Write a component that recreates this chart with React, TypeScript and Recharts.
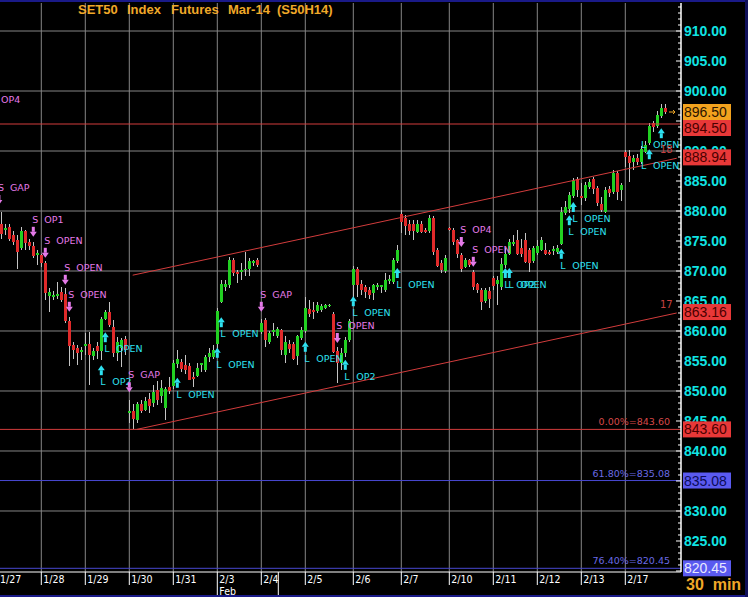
import React from 'react';
import { ComposedChart, Bar, XAxis, YAxis, CartesianGrid, ReferenceLine, Scatter } from 'recharts';

// ---- bar data (30 min bars, index = bar number) ----
const opens = [
  877.9, 876.8, 877.4, 876.0, 875.2, 873.8, 876.6, 874.9, 874.2, 872.7,
  872.6, 871.3, 865.9, 865.7, 865.9, 866.5, 866.1, 861.6, 857.7, 857.2,
  856.6, 857.4, 857.8, 855.8, 857.5, 856.6, 862.0, 863.2, 860.6, 856.3,
  857.1, 858.7, 846.3, 846.6, 845.2, 847.9, 846.9, 848.6, 848.0, 850.2,
  849.1, 847.1, 850.6, 850.8, 854.5, 854.9, 854.3, 854.2, 852.4, 852.5,
  854.2, 853.5, 855.6, 855.7, 857.8, 864.9, 867.4, 867.7, 871.8, 869.9,
  869.9, 870.1, 870.2, 871.4, 871.9, 859.9, 861.8, 858.2, 859.7, 859.1,
  860.2, 856.0, 857.8, 857.9, 855.7, 858.8, 859.9, 863.6, 863.5, 863.3,
  863.5, 863.8, 864.1, 862.9, 856.6, 854.6, 856.3, 858.5, 867.7, 870.4,
  867.9, 867.3, 866.8, 866.3, 867.3, 867.4, 866.8, 868.2, 868.2, 871.6,
  879.5, 878.8, 877.9, 877.9, 876.6, 877.9, 876.9, 876.6, 878.8, 873.5,
  871.3, 869.9, 877.1, 876.9, 875.1, 872.7, 870.7, 871.8, 869.9, 867.8,
  866.9, 864.9, 866.6, 868.8, 867.9, 867.4, 871.0, 872.9, 874.5, 875.2,
  873.9, 875.2, 873.5, 871.6, 872.9, 873.6, 873.5, 873.2, 873.2, 873.2,
  874.6, 879.7, 880.4, 882.5, 885.3, 882.5, 882.1, 884.1, 885.3, 883.8,
  881.2, 879.9, 883.6, 883.2, 886.4, 883.5, 889.9, 889.2, 888.2, 888.8,
  888.2, 889.9, 891.3, 894.6, 894.1, 895.7, 897.1,
];
const highs = [
  879.9, 877.8, 877.8, 876.6, 876.0, 877.4, 876.8, 875.4, 874.9, 873.5,
  872.9, 871.7, 867.1, 866.6, 868.2, 867.4, 867.1, 862.4, 858.2, 857.7,
  857.4, 859.6, 859.9, 857.1, 858.2, 862.4, 863.5, 864.9, 861.8, 859.0,
  858.8, 859.1, 848.5, 847.9, 848.2, 848.5, 849.0, 849.6, 851.0, 851.6,
  851.8, 850.7, 852.4, 855.2, 856.8, 855.4, 856.0, 854.6, 853.2, 854.6,
  854.6, 856.0, 857.1, 857.6, 863.8, 868.5, 868.5, 872.3, 872.1, 870.2,
  871.3, 873.2, 872.1, 871.9, 872.1, 862.0, 862.1, 860.0, 861.3, 860.6,
  860.4, 859.1, 858.5, 858.2, 859.3, 860.6, 865.7, 865.2, 864.8, 864.8,
  864.5, 864.5, 864.5, 863.2, 857.4, 857.1, 859.0, 862.0, 870.9, 870.7,
  868.5, 867.7, 867.4, 867.9, 868.0, 867.7, 869.6, 869.3, 872.1, 874.3,
  880.2, 879.3, 878.5, 878.5, 878.5, 878.3, 877.2, 879.3, 879.1, 873.8,
  871.8, 872.6, 877.4, 877.1, 875.4, 873.0, 872.2, 872.0, 870.2, 868.0,
  867.2, 867.2, 867.4, 869.1, 869.2, 872.1, 873.8, 875.4, 876.0, 876.8,
  875.4, 876.3, 873.8, 874.1, 875.1, 875.6, 874.6, 873.5, 874.2, 874.3,
  880.7, 881.6, 883.2, 885.5, 885.7, 884.6, 884.8, 885.4, 885.7, 884.2,
  882.4, 884.0, 884.1, 886.8, 886.6, 884.6, 890.2, 890.2, 889.3, 889.5,
  890.8, 891.6, 894.6, 895.0, 896.6, 897.8, 897.8,
];
const lows = [
  875.4, 876.0, 875.0, 874.3, 870.4, 873.5, 873.5, 873.5, 872.2, 871.0,
  870.7, 865.2, 863.2, 865.2, 865.4, 864.9, 861.3, 854.1, 855.4, 854.3,
  855.2, 856.0, 851.0, 855.2, 855.4, 855.2, 861.9, 860.7, 855.7, 855.0,
  854.0, 856.0, 844.6, 843.6, 844.7, 846.4, 846.6, 846.4, 847.3, 847.7,
  848.0, 845.2, 849.5, 850.4, 853.8, 853.1, 852.9, 851.8, 850.7, 852.4,
  853.1, 853.2, 854.9, 855.4, 856.8, 864.6, 866.6, 867.2, 869.2, 868.0,
  868.5, 869.1, 869.1, 870.8, 870.7, 859.5, 857.4, 857.8, 859.1, 858.8,
  856.0, 854.6, 856.4, 855.2, 854.3, 858.5, 859.6, 862.4, 862.0, 863.0,
  863.2, 863.6, 864.0, 856.3, 851.3, 853.5, 855.7, 858.2, 865.7, 865.7,
  866.0, 865.5, 865.4, 865.2, 866.8, 866.3, 866.5, 867.9, 867.9, 871.3,
  876.3, 876.0, 876.0, 875.2, 876.3, 876.3, 876.3, 876.3, 872.7, 870.7,
  869.6, 869.6, 876.6, 874.3, 872.2, 869.9, 870.5, 870.7, 866.9, 866.3,
  863.5, 864.6, 863.8, 866.8, 864.3, 866.8, 870.5, 872.6, 874.1, 872.7,
  872.4, 871.3, 869.9, 871.3, 872.6, 873.3, 872.7, 872.7, 872.7, 872.9,
  874.3, 879.4, 879.6, 882.2, 882.4, 881.0, 881.6, 883.6, 882.8, 880.9,
  879.9, 879.6, 882.4, 882.9, 881.8, 881.6, 887.4, 884.9, 886.8, 887.6,
  887.9, 889.6, 891.0, 893.2, 893.9, 895.5, 896.1,
];
const closes = [
  876.3, 877.2, 875.4, 874.8, 873.2, 876.7, 874.6, 874.2, 872.5, 873.0,
  871.3, 866.3, 866.5, 866.0, 866.2, 865.2, 861.6, 857.4, 856.8, 856.3,
  856.9, 857.8, 855.9, 856.6, 856.6, 862.0, 863.1, 861.0, 856.3, 858.2,
  858.5, 856.8, 846.7, 845.2, 847.9, 846.8, 848.4, 847.5, 849.9, 848.5,
  850.5, 850.3, 849.9, 854.6, 855.3, 853.8, 853.4, 851.9, 852.1, 853.8,
  854.6, 855.7, 856.3, 856.8, 863.3, 867.9, 867.9, 871.8, 869.6, 869.6,
  870.2, 870.3, 871.6, 871.7, 871.0, 861.4, 858.5, 859.7, 860.1, 860.3,
  856.8, 858.2, 856.9, 855.4, 859.1, 860.2, 863.8, 862.7, 863.1, 864.3,
  864.2, 864.3, 864.3, 856.6, 854.6, 856.3, 858.5, 861.6, 870.4, 867.7,
  866.9, 866.5, 866.0, 867.7, 867.6, 867.7, 868.5, 868.6, 871.8, 873.5,
  878.2, 877.4, 876.8, 876.8, 877.9, 876.6, 876.6, 878.8, 873.2, 870.8,
  870.1, 872.1, 876.8, 874.9, 872.7, 870.4, 871.8, 871.0, 867.4, 866.8,
  864.9, 866.8, 865.2, 867.4, 868.5, 871.2, 872.9, 874.9, 874.9, 872.9,
  872.9, 871.6, 871.3, 873.8, 874.1, 875.2, 872.9, 872.9, 873.6, 873.8,
  879.9, 880.7, 882.7, 885.2, 883.5, 882.1, 884.3, 884.9, 883.6, 881.3,
  880.2, 883.5, 882.9, 886.3, 883.2, 884.3, 889.1, 888.1, 888.8, 888.1,
  890.4, 891.0, 894.2, 893.9, 896.0, 897.1, 896.5,
];

// ---- session (day) starts and labels ----
const dayStarts = [-0.8, 10, 21, 32, 43, 54, 65, 76, 88, 100, 112, 123, 134, 145, 156];
const dayLabels = ['1/27', '1/28', '1/29', '1/30', '1/31', '2/3', '2/4', '2/5', '2/6', '2/7', '2/10', '2/11', '2/12', '2/13', '2/17'];
const monthStart = 54;
const monthLabel = 'Feb';

// ---- price axis ----
const yTickValues = Array.from({ length: 95 }, (_, k) => 820 + k);
const gridPrices = [830, 840, 850, 860, 870, 880, 890, 900, 910];

// ---- signals ----
const sigIndex = [-2.8, -0.6, 8, 11, 16, 17, 26, 25, 32, 44, 54, 55, 65, 76, 84, 86, 88, 99, 115, 118, 126, 127, 140, 142, 143, 162, 165];
const sigPrice = [895.7, 881.0, 875.7, 872.2, 867.7, 863.2, 859.8, 854.3, 849.8, 852.2, 857.2, 862.3, 863.2, 858.2, 858.0, 855.2, 865.8, 870.5, 874.0, 870.7, 870.5, 870.5, 873.7, 879.3, 881.5, 890.3, 893.8];
const sigSide = ['S', 'S', 'S', 'S', 'S', 'S', 'L', 'L', 'S', 'L', 'L', 'L', 'S', 'L', 'S', 'L', 'L', 'L', 'S', 'S', 'L', 'L', 'L', 'L', 'L', 'L', 'L'];
const sigWord = ['OP4', 'GAP', 'OP1', 'OPEN', 'OPEN', 'OPEN', 'OPEN', 'OP2', 'GAP', 'OPEN', 'OPEN', 'OPEN', 'GAP', 'OPEN', 'OPEN', 'OP2', 'OPEN', 'OPEN', 'OP4', 'OPEN', 'OP2', 'OPEN', 'OPEN', 'OPEN', 'OPEN', 'OPEN', 'OPEN'];

// ---- levels ----
const resistance = 894.5;
const fibValues = [843.6, 835.08, 820.45];
const fibNames = ['0.00%', '61.80%', '76.40%'];
const lastPrice = 896.5;
const upperChannel = [{ x: 32.85, y: 869.3 }, { x: 168.85, y: 888.79 }];
const lowerChannel = [{ x: 33.85, y: 843.6 }, { x: 168.85, y: 863.0 }];
const upperChannelEnd = 888.94;
const lowerChannelEnd = 863.16;
const channelIds = ['18', '17'];

const boxValues = [lastPrice, resistance, upperChannelEnd, lowerChannelEnd, fibValues[0], fibValues[1], fibValues[2]];
const boxFill = ['#f2a21e', '#e83838', '#e83838', '#e83838', '#e83838', '#5a5af0', '#5a5af0'];
const boxInk = ['#2a1400', '#4a0000', '#4a0000', '#4a0000', '#4a0000', '#0c0c5a', '#e8e8ff'];

const RED = '#d23c3c';
const BLUE = '#4848d0';
const GREEN_C = '#22d022';
const RED_C = '#e02a2a';
const MAGENTA = '#e47ae8';
const CYAN = '#2ee0f0';
const AXIS_CYAN = '#10e4e4';
const ORANGE = '#f0a828';
const PLOT_RIGHT = 681;

const bars = opens.map((o, i) => ({ idx: i, open: o, high: highs[i], low: lows[i], close: closes[i] }));
const signals = sigIndex.map((i, k) => ({ idx: i, price: sigPrice[k], side: sigSide[k], word: sigWord[k] }));

function Candle(props: any) {
  const { x, y, width, height, payload } = props;
  if (x == null || y == null || !payload) return null;
  const top = Math.min(y, y + height);
  const bot = Math.max(y, y + height);
  const { open, close, high, low } = payload;
  const span = high - low || 1;
  const py = (v: number) => top + ((high - v) / span) * (bot - top);
  const left = Math.round(x + width / 2 - 1.5);
  const cx = left + 1.5;
  const up = close >= open;
  const yO = py(open);
  const yC = py(close);
  const bTop = Math.round(Math.min(yO, yC));
  const bH = Math.max(1, Math.round(Math.abs(yO - yC)));
  return (
    <g>
      <line x1={cx} x2={cx} y1={Math.round(top)} y2={Math.round(bot)} stroke="#c4c4c4" strokeWidth={1} />
      <rect x={left} y={bTop} width={3} height={bH} fill={up ? GREEN_C : RED_C} />
    </g>
  );
}

function Signal(props: any) {
  const { cx, cy, payload } = props;
  if (cx == null || cy == null) return null;
  const isS = payload.side === 'S';
  const col = isS ? MAGENTA : CYAN;
  let tx = cx - 1;
  if (tx > PLOT_RIGHT - 40) tx = PLOT_RIGHT - 40;
  const font = { fontFamily: 'DejaVu Sans, sans-serif', fontSize: 9.5, fill: col } as any;
  if (isS) {
    return (
      <g>
        <rect x={cx - 1.5} y={cy - 10} width={3} height={5} fill={col} />
        <polygon points={`${cx - 3.5},${cy - 5} ${cx + 3.5},${cy - 5} ${cx},${cy}`} fill={col} />
        <text x={tx} y={cy - 14} {...font}>S</text>
        <text x={tx + 12} y={cy - 14} {...font}>{payload.word}</text>
      </g>
    );
  }
  return (
    <g>
      <polygon points={`${cx - 3.5},${cy + 5} ${cx + 3.5},${cy + 5} ${cx},${cy}`} fill={col} />
      <rect x={cx - 1.5} y={cy + 5} width={3} height={5} fill={col} />
      <text x={tx} y={cy + 20} {...font}>L</text>
      <text x={tx + 12} y={cy + 20} {...font}>{payload.word}</text>
    </g>
  );
}

let lastBoxBottom = -1e9;

function YTick(props: any) {
  const { x, y, payload } = props;
  const v = payload.value;
  const bi = boxValues.indexOf(v);
  if (bi >= 0) {
    if (bi === 0) lastBoxBottom = -1e9;
    let top = y - 8;
    if (top < lastBoxBottom) top = lastBoxBottom;
    lastBoxBottom = top + 16;
    const fi = fibValues.indexOf(v);
    const ci = v === upperChannelEnd ? 0 : v === lowerChannelEnd ? 1 : -1;
    return (
      <g>
        <rect x={x + 2} y={top} width={48} height={16} fill={boxFill[bi]} />
        <text x={x + 3} y={top + 13} fill={boxInk[bi]} fontSize={14} fontFamily="Liberation Sans, Arial, sans-serif">{v.toFixed(2)}</text>
        {v === lastPrice ? (
          <path d={`M${x - 12},${y} L${x - 6},${y} M${x - 8},${y - 2} L${x - 6},${y} L${x - 8},${y + 2}`} stroke={ORANGE} strokeWidth={1} fill="none" />
        ) : null}
        {fi >= 0 ? (
          <text x={x - 11} y={y - 4} textAnchor="end" fill={fi === 0 ? '#d84848' : '#6a6ae6'} fontSize={9.5} fontFamily="DejaVu Sans, sans-serif">
            {`${fibNames[fi]}=${v.toFixed(2)}`}
          </text>
        ) : null}
        {ci >= 0 ? (
          <text x={x - 21} y={y - 4} fill="#c84040" fontSize={10} fontFamily="DejaVu Sans, sans-serif">{channelIds[ci]}</text>
        ) : null}
      </g>
    );
  }
  const major = Math.round(v) % 5 === 0;
  return (
    <g>
      <line x1={x - (major ? 5 : 3)} x2={x} y1={y} y2={y} stroke="#ffffff" strokeWidth={1} />
      {major && v >= 825 ? (
        <text x={x + 3} y={y + 5} fill={AXIS_CYAN} fontSize={14} fontWeight="bold" fontFamily="Liberation Sans, Arial, sans-serif">
          {v.toFixed(2)}
        </text>
      ) : null}
    </g>
  );
}

function XTick(props: any) {
  const { x, y, payload } = props;
  const k = dayStarts.indexOf(payload.value);
  const isMonth = payload.value === monthStart;
  const font = { fill: '#ffffff', fontSize: 10.5, fontFamily: 'DejaVu Sans Condensed, DejaVu Sans, sans-serif' } as any;
  return (
    <g>
      <line x1={x} x2={x} y1={y} y2={y + (isMonth ? 25 : 13)} stroke="#ffffff" strokeWidth={1} />
      <text x={x + 2} y={y + 11} {...font}>{dayLabels[k]}</text>
      {isMonth ? (
        <g>
          <text x={x + 2} y={y + 23} {...font}>{monthLabel}</text>
          <line x1={x + 61} x2={x + 61} y1={y} y2={y + 25} stroke="#ffffff" strokeWidth={1} />
        </g>
      ) : null}
    </g>
  );
}

const titleWords = ['SET50', 'Index', 'Futures', 'Mar-14', '(S50H14)'];
const titleLeft = [78, 127, 171, 228, 277];

export default function App() {
  return (
    <div style={{ position: 'fixed', left: 0, top: 0, width: 748, height: 597, background: '#000', overflow: 'hidden' }}>
      <ComposedChart width={748} height={597} data={bars} margin={{ top: 3, right: 0, bottom: 0, left: 0 }}>
        <CartesianGrid stroke="#858585" strokeWidth={1} horizontalValues={gridPrices} verticalValues={dayStarts.slice(1)} />
        <XAxis
          dataKey="idx"
          type="number"
          domain={[-0.325, 169.925]}
          allowDataOverflow
          ticks={dayStarts}
          interval={0}
          height={25}
          tickSize={0}
          tickMargin={0}
          axisLine={{ stroke: '#ffffff', strokeWidth: 1 }}
          tickLine={false}
          tick={(p: any) => <XTick {...p} />}
        />
        <YAxis
          orientation="right"
          type="number"
          domain={[819.833, 914.667]}
          allowDataOverflow
          ticks={[...yTickValues, ...boxValues]}
          interval={0}
          width={67}
          tickSize={0}
          tickMargin={0}
          axisLine={{ stroke: '#ffffff', strokeWidth: 1.5 }}
          tickLine={false}
          tick={(p: any) => <YTick {...p} />}
        />
        <ReferenceLine y={resistance} stroke={RED} strokeWidth={1} />
        <ReferenceLine y={fibValues[0]} stroke={RED} strokeWidth={1} />
        <ReferenceLine y={fibValues[1]} stroke={BLUE} strokeWidth={1} />
        <ReferenceLine y={fibValues[2]} stroke={BLUE} strokeWidth={1} />
        <ReferenceLine segment={upperChannel} stroke={RED} strokeWidth={1} />
        <ReferenceLine segment={lowerChannel} stroke={RED} strokeWidth={1} />
        <Bar dataKey={(d: any) => [d.low, d.high]} barSize={3} shape={(p: any) => <Candle {...p} />} isAnimationActive={false} />
        <Scatter data={signals} dataKey="price" shape={(p: any) => <Signal {...p} />} isAnimationActive={false} />
      </ComposedChart>
      {titleWords.map((w, k) => (
        <span
          key={w}
          style={{ position: 'absolute', left: titleLeft[k], top: 2, color: ORANGE, fontFamily: 'Liberation Sans, Arial, sans-serif', fontWeight: 'bold', fontSize: 13, lineHeight: '15px', whiteSpace: 'pre' }}
        >
          {w}
        </span>
      ))}
      <span style={{ position: 'absolute', left: 686, top: 576, color: ORANGE, fontFamily: 'Liberation Sans, Arial, sans-serif', fontWeight: 'bold', fontSize: 16, lineHeight: '18px', whiteSpace: 'pre' }}>
        {'30  min'}
      </span>
      <div style={{ position: 'absolute', left: 0, top: 0, width: 748, height: 2, background: '#1a1a88' }} />
      <div style={{ position: 'absolute', left: 0, top: 595, width: 748, height: 2, background: '#1a1a88' }} />
      <div style={{ position: 'absolute', left: 745, top: 0, width: 3, height: 597, background: '#10105a' }} />
    </div>
  );
}
